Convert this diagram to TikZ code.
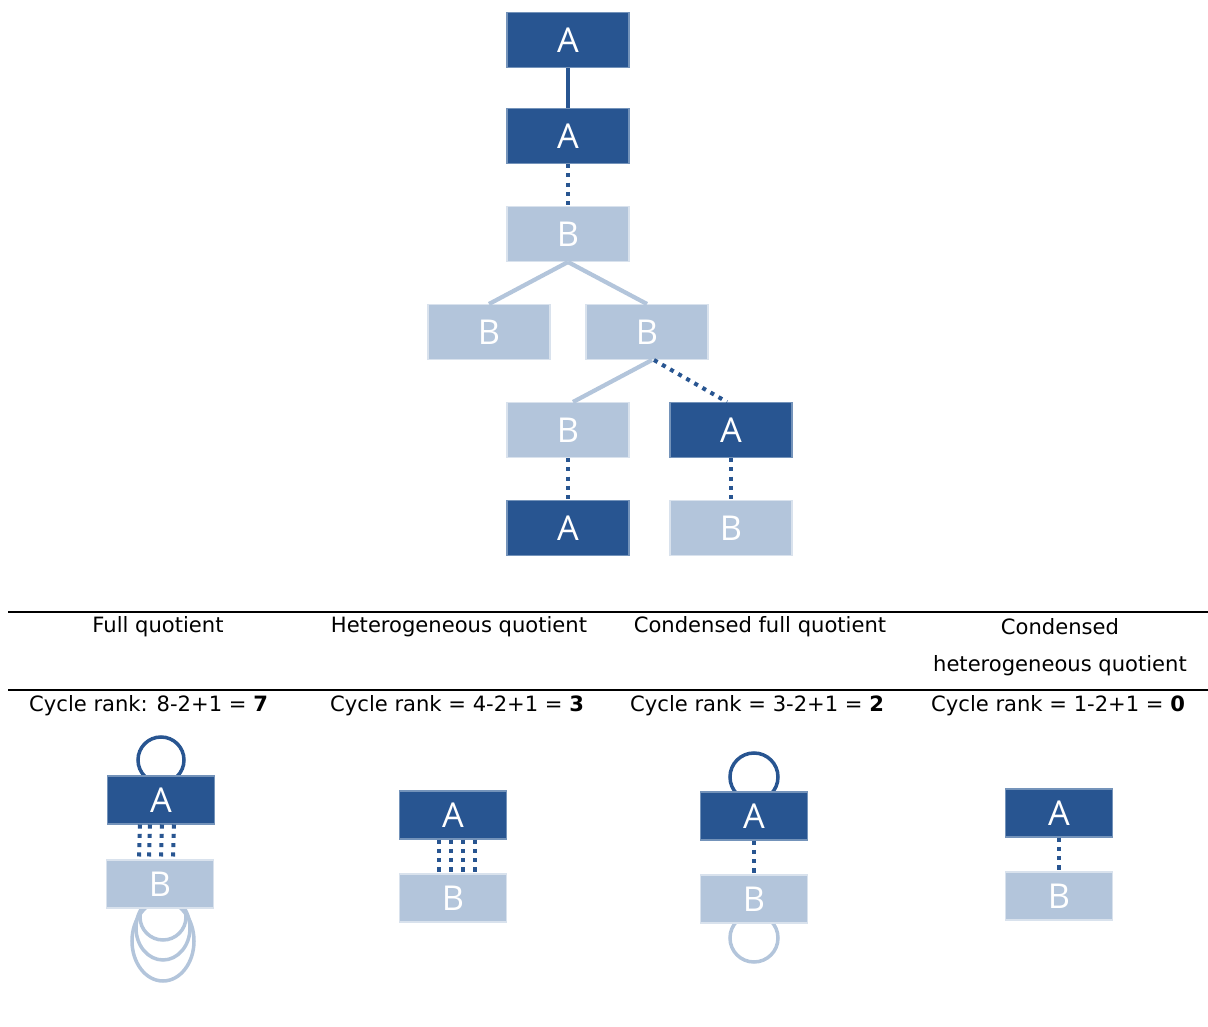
\documentclass[tikz,border=0pt]{standalone}
\usepackage{fontspec}
\setmainfont{DejaVu Sans}
\newfontfamily\boxfont{Open Sans}
\usetikzlibrary{calc}
\definecolor{darkA}{HTML}{285591}
\definecolor{lightB}{HTML}{B3C5DB}

\begin{document}
\begin{tikzpicture}[x=0.02cm,y=-0.02cm,
  abox/.style={fill=darkA,draw=lightB!55!darkA,line width=0.6pt,text=white,font=\boxfont\fontsize{19.5}{22}\selectfont,minimum width=2.44cm,minimum height=1.1cm,inner sep=0pt},
  bbox/.style={abox,fill=lightB,draw=lightB!50!white},
  small/.style={minimum width=2.14cm,minimum height=0.96cm},
  solidA/.style={draw=darkA,line width=2.2pt},
  solidB/.style={draw=lightB,line width=2.4pt},
  dotA/.style={draw=darkA,line width=2.3pt,dash pattern=on 2.3pt off 3pt},
  loopA/.style={draw=darkA,line width=2pt},
  loopB/.style={draw=lightB,line width=2pt},
  head/.style={font=\fontsize{12}{14}\selectfont},
  rank/.style={head,anchor=west},
  rule/.style={line width=1.3pt}]
\useasboundingbox (0,0) rectangle (1208,1027);

\node[abox] (a1) at (568,40) {A};
\node[abox] (a2) at (568,136) {A};
\node[bbox] (b1) at (568,234) {B};
\node[bbox] (b2) at (489,332) {B};
\node[bbox] (b3) at (647,332) {B};
\node[bbox] (b4) at (568,430) {B};
\node[abox] (a3) at (731,430) {A};
\node[abox] (a4) at (568,528) {A};
\node[bbox] (b5) at (731,528) {B};
\draw[solidA] (a1) -- (a2);
\draw[dotA] (a2) -- (b1);
\draw[solidB] (b1.south) -- (b2.north);
\draw[solidB] (b1.south) -- (b3.north);
\draw[solidB] ($(b3.south)+(5,0)$) -- ($(b4.north)+(5,0)$);
\draw[dotA] ($(b3.south)+(7,0)$) -- ($(a3.north)+(-4,0)$);
\draw[dotA] (b4) -- (a4);
\draw[dotA] (a3) -- (b5);

\draw[rule] (8,612) -- (1208,612);
\draw[rule] (8,690) -- (1208,690);
\node[head] (h1) at (158,627) {Full quotient};
\node[head] (h2) at (459,627) {Heterogeneous quotient};
\node[head] (h3) at (760,627) {Condensed full quotient};
\node[head] (h4) at (1060,627) {Condensed};
\node[head] (h5) at (1060,666) {heterogeneous quotient};
\node[rank] (r1) at (23,706) {Cycle rank: 8-2+1 = \textbf{7}};
\node[rank] (r2) at (324,706) {Cycle rank = 4-2+1 = \textbf{3}};
\node[rank] (r3) at (624,706) {Cycle rank = 3-2+1 = \textbf{2}};
\node[rank] (r4) at (925,706) {Cycle rank = 1-2+1 = \textbf{0}};

\foreach \rx/\ry/\cy in {23/23/917,27/32/928,31/40/941}
  \draw[loopB] (163,\cy) ellipse[x radius=\rx,y radius=\ry];
\draw[loopA] (161,760) circle[radius=23];
\node[abox,small] (fa) at (161,800) {A};
\node[bbox,small] (fb) at (160,884) {B};
\foreach \dx in {-21,-11,1,13}
  \draw[dotA] ($(fa.south)+(\dx,0)$) -- ($(fb.north)+(\dx,0)$);

\node[abox,small] (ha) at (453,815) {A};
\node[bbox,small] (hb) at (453,898) {B};
\foreach \dx in {-14,-2,10,22}
  \draw[dotA] ($(ha.south)+(\dx,0)$) -- ($(hb.north)+(\dx,0)$);

\draw[loopA] (754,777) circle[radius=24];
\draw[loopB] (754,938) circle[radius=24];
\node[abox,small] (ca) at (754,816) {A};
\node[bbox,small] (cb) at (754,899) {B};
\draw[dotA] (ca) -- (cb);

\node[abox,small] (da) at (1059,813) {A};
\node[bbox,small] (db) at (1059,896) {B};
\draw[dotA] (da) -- (db);
\end{tikzpicture}
\end{document}
